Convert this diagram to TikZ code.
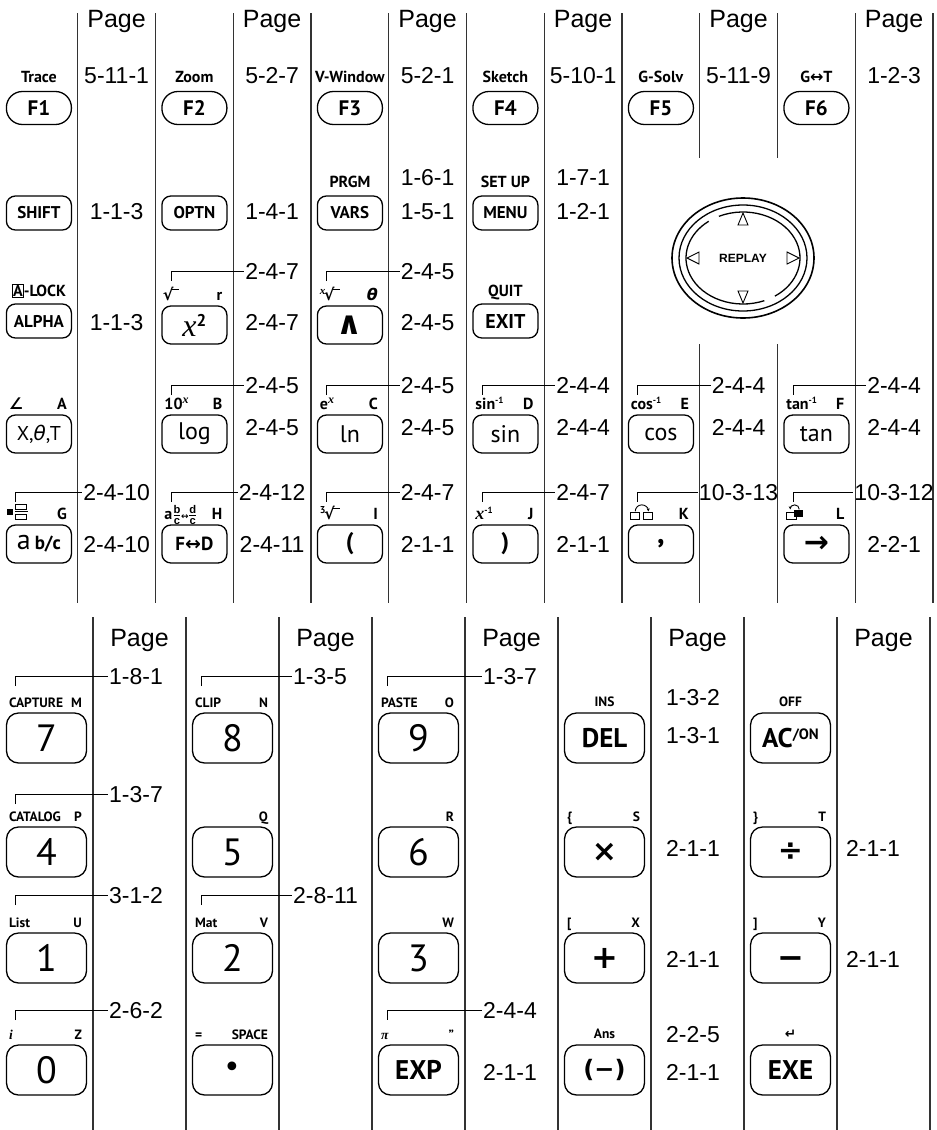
\RequirePackage{fix-cm}
\documentclass[tikz,border=0pt]{standalone}
\usepackage{amsmath,amssymb}
\usepackage{fontspec}
\setmainfont{Liberation Sans}
\newfontfamily\keyfont{PT Sans}
\newfontfamily\symfont{DejaVu Sans}
\newfontfamily\seriffont{Liberation Serif}
\usetikzlibrary{calc,arrows.meta}

% small boxed A of the A-LOCK legend
\newcommand{\boxedA}{{\fboxsep=0.6pt\fboxrule=0.6pt\fbox{A}}}
% root sign with its bar, #1 is the index
\newcommand{\rootsign}[1]{#1\hspace{-1.5pt}{\symfont √}\hspace{-0.09em}\rule[0.66em]{0.42em}{0.075em}}
\newcommand{\smallup}[1]{\raisebox{6pt}{\fontsize{9}{9}\selectfont #1}}
\newcommand{\itx}[1]{{\seriffont\bfseries\itshape\fontsize{#1}{#1}\selectfont x}}
% shift legend left of the key and alpha letter right of it
\newcommand{\keylabels}[3]{%
  \node[lbl, anchor=base west] (#1l) at ([xshift=3pt,yshift=5pt]#1.north west) {#2};
  \node[lbl, anchor=base east] (#1r) at ([xshift=-5pt,yshift=5pt]#1.north east) {#3};}
% the little hook from a key's shift legend over to its page number
\newcommand{\shiftlink}[2]{%
  \draw[brk] ($(#1.west |- #2.west)+(10pt,-10pt)$) -- ++(0pt,10pt) -- (#2.west);}

\tikzset{
  rule/.style={black!80, line width=1.3pt},
  brk/.style={black, line width=0.9pt},
  icon/.style={line width=0.9pt},
  pg/.style={anchor=base, inner sep=1pt, font=\fontsize{23}{23}\selectfont},
  pgw/.style={pg, anchor=base west},
  pghead/.style={pg, font=\fontsize{25}{25}\selectfont},
  keycap/.style={draw, line width=1.3pt, rounded corners=9pt, minimum width=65pt,
    minimum height=34pt, inner sep=0pt,
    font=\keyfont\bfseries\fontsize{17}{17}\selectfont},
  fkeycap/.style={keycap, rounded corners=16pt, minimum height=33pt,
    font=\keyfont\bfseries\fontsize{21}{21}\selectfont},
  tallcap/.style={keycap, minimum height=38pt, font=\keyfont\fontsize{24}{24}\selectfont},
  bigcap/.style={keycap, minimum width=80pt, minimum height=50pt, rounded corners=12pt,
    font=\keyfont\fontsize{38}{38}\selectfont},
  lbl/.style={anchor=base, inner sep=0pt, font=\keyfont\bfseries\fontsize{16}{16}\selectfont},
  padring/.style={line width=1.3pt},
  padarrow/.style={draw, fill=white, line width=0.9pt},
}

\begin{document}
\begin{tikzpicture}[x=1pt, y=-1pt]
  \useasboundingbox (0,0) rectangle (937,1130);

  % -- upper block: twelve rules, the 9th and 10th stop round the replay pad
  \foreach \i in {1,2,3,4,5,6,7,8,11,12}
    \draw[rule] ({77.75*\i},13) -- ({77.75*\i},603);
  \foreach \i in {9,10}{
    \draw[rule] ({77.75*\i},13) -- ({77.75*\i},158);
    \draw[rule] ({77.75*\i},344) -- ({77.75*\i},603);}
  \foreach \j in {0,...,5}
    \node[pghead] (toppage\j) at ({116.6+155.5*\j},27) {Page};

  % function keys F1..F6
  \foreach \j/\lab/\pnum in {0/Trace/5-11-1, 1/Zoom/5-2-7, 2/V-Window/5-2-1,
      3/Sketch/5-10-1, 4/G-Solv/5-11-9, 5/{G{\symfont ↔}T}/1-2-3}{
    \pgfmathtruncatemacro\n{\j+1}
    \node[fkeycap] (f\n) at ({38.9+155.5*\j},108) {F\n};
    \node[lbl] (f\n-lbl) at ([yshift=8pt]f\n.north) {\lab};
    \node[pg] (f\n-pg) at ({116.6+155.5*\j},83) {\pnum};}

  % SHIFT OPTN VARS MENU
  \node[keycap] (shift) at (38.9,213) {SHIFT};
  \node[keycap] (optn) at (194.4,213) {OPTN};
  \node[keycap] (vars) at (349.9,213) {VARS};
  \node[keycap] (menu) at (505.4,213) {MENU};
  \node[lbl] (prgm) at ([yshift=8pt]vars.north) {PRGM};
  \node[lbl] (setup) at ([yshift=8pt]menu.north) {SET UP};
  \node[pg] (shift-m) at (116.6,219) {1-1-3};
  \node[pg] (optn-m) at (272.1,219) {1-4-1};
  \node[pg] (vars-s) at (427.6,185) {1-6-1};
  \node[pg] (vars-m) at (427.6,219) {1-5-1};
  \node[pg] (menu-s) at (583.1,185) {1-7-1};
  \node[pg] (menu-m) at (583.1,219) {1-2-1};

  % ALPHA x^2 ^ EXIT
  \node[keycap] (alpha) at (38.9,321) {ALPHA};
  \node[tallcap] (sq) at (194.4,325)
    {{\seriffont\itshape\fontsize{32}{32}\selectfont x}\raisebox{10pt}{\keyfont\bfseries\fontsize{17}{17}\selectfont 2}};
  \node[tallcap, font=\symfont\bfseries\fontsize{32}{32}\selectfont] (pow) at (349.9,325) {∧};
  \node[keycap, font=\keyfont\bfseries\fontsize{20}{20}\selectfont] (exit) at (505.4,321) {EXIT};
  \node[lbl] (alock) at ([yshift=7pt]alpha.north) {\boxedA-LOCK};
  \node[lbl] (quit) at ([yshift=7pt]exit.north) {QUIT};
  \keylabels{sq}{\rootsign{}}{r}
  \keylabels{pow}{\rootsign{\raisebox{6pt}{\itx{11}}}}{{\symfont\bfseries\itshape θ}}
  \node[pg] (alpha-m) at (116.6,330) {1-1-3};
  \foreach \k/\x/\t in {sq/272.1/2-4-7, pow/427.6/2-4-5}{
    \node[pg] (\k-s) at (\x,279) {\t};
    \node[pg] (\k-m) at (\x,330) {\t};
    \shiftlink{\k}{\k-s}}

  % replay pad
  \draw[padring, line width=1.6pt] (743,258) ellipse [x radius=71, y radius=60];
  \draw[padring] (743,258) ellipse [x radius=64, y radius=53];
  \draw[padring] (743,258) ++(68:57 and 46) arc [start angle=68, end angle=233, x radius=57, y radius=46];
  \draw[padring] (743,258) ++(245:57 and 46) arc [start angle=245, end angle=416, x radius=57, y radius=46];
  \draw[padarrow] (743,213) -- (738,225) -- (748,225) -- cycle;
  \draw[padarrow] (743,303) -- (738,291) -- (748,291) -- cycle;
  \draw[padarrow] (687,258) -- (699,252) -- (699,264) -- cycle;
  \draw[padarrow] (799,258) -- (787,252) -- (787,264) -- cycle;
  \node[font=\bfseries\fontsize{12}{12}\selectfont] (replay) at (743,258) {REPLAY};

  % X,theta,T log ln sin cos tan
  \node[tallcap, font=\keyfont\fontsize{20}{20}\selectfont] (xtt) at (38.9,434) {X,{\symfont\itshape θ},T};
  \node[tallcap] (log) at (194.4,434) {log};
  \node[tallcap] (ln) at (349.9,434) {ln};
  \node[tallcap] (sin) at (505.4,434) {sin};
  \node[tallcap] (cos) at (660.9,434) {cos};
  \node[tallcap] (tan) at (816.4,434) {tan};
  \keylabels{xtt}{{\symfont\bfseries ∠}}{A}
  \keylabels{log}{10\raisebox{6pt}{\itx{12}}}{B}
  \keylabels{ln}{e\raisebox{6pt}{\itx{12}}}{C}
  \keylabels{sin}{sin\smallup{-1}}{D}
  \keylabels{cos}{cos\smallup{-1}}{E}
  \keylabels{tan}{tan\smallup{-1}}{F}
  \foreach \k/\x/\t in {log/272.1/2-4-5, ln/427.6/2-4-5, sin/583.1/2-4-4,
      cos/738.6/2-4-4, tan/894.1/2-4-4}{
    \node[pg] (\k-s) at (\x,393) {\t};
    \node[pg] (\k-m) at (\x,435) {\t};
    \shiftlink{\k}{\k-s}}

  % a b/c  F<->D  (  )  ,  ->
  \node[tallcap] (frac) at (38.9,544)
    {{\fontsize{28}{28}\selectfont a}\,{\bfseries\fontsize{19}{19}\selectfont b/c}};
  \node[tallcap, font=\keyfont\bfseries\fontsize{19}{19}\selectfont] (fd) at (194.4,544) {F{\symfont ↔}D};
  \node[tallcap, font=\keyfont\bfseries\fontsize{24}{24}\selectfont] (lpar) at (349.9,544) {(};
  \node[tallcap, font=\keyfont\bfseries\fontsize{24}{24}\selectfont] (rpar) at (505.4,544) {)};
  \node[tallcap, font=\keyfont\bfseries\fontsize{30}{30}\selectfont] (comma) at (660.9,544) {,};
  \node[tallcap, font=\symfont\bfseries\fontsize{30}{30}\selectfont] (sto) at (816.4,544) {→};
  \node[lbl, anchor=base east] (fracr) at ([xshift=-5pt,yshift=5pt]frac.north east) {G};
  \keylabels{fd}{a$\frac{\mathbf{b}}{\mathbf{c}}$\hspace{-0.5pt}{\symfont\fontsize{9}{9}\selectfont ↔}\hspace{-0.5pt}$\frac{\mathbf{d}}{\mathbf{c}}$}{H}
  \keylabels{lpar}{\rootsign{\raisebox{6pt}{\fontsize{10}{10}\selectfont 3}}}{I}
  \keylabels{rpar}{\itx{18}\smallup{-1}}{J}
  \node[lbl, anchor=base east] (commar) at ([xshift=-5pt,yshift=5pt]comma.north east) {K};
  \node[lbl, anchor=base east] (stor) at ([xshift=-5pt,yshift=5pt]sto.north east) {L};
  % the three little pictograms of this row
  \coordinate (gicon) at ([xshift=1pt,yshift=5pt]frac.north west);
  \fill ([yshift=4pt]gicon) rectangle ++(6pt,6pt);
  \draw[icon] ([xshift=9pt]gicon) rectangle ++(11pt,5pt);
  \draw[icon] ([xshift=8pt,yshift=7.5pt]gicon) -- ++(13pt,0pt);
  \draw[icon] ([xshift=9pt,yshift=10pt]gicon) rectangle ++(11pt,5pt);
  \coordinate (kicon) at ([xshift=3pt,yshift=5pt]comma.north west);
  \draw[icon] (kicon) rectangle ++(9pt,7pt);
  \draw[icon] ([xshift=13pt]kicon) rectangle ++(9pt,7pt);
  \draw[icon, -{Stealth[length=3pt,width=3pt]}] ([xshift=4.5pt,yshift=8pt]kicon)
    arc [start angle=180, end angle=0, radius=6.5pt];
  \coordinate (licon) at ([xshift=3pt,yshift=5pt]sto.north west);
  \draw[icon] (licon) rectangle ++(10pt,7pt);
  \fill ([xshift=8pt,yshift=2pt]licon) rectangle ++(9pt,7pt);
  \draw[icon, -{Stealth[length=3pt,width=3pt]}] ([xshift=13pt,yshift=10pt]licon)
    arc [start angle=0, end angle=180, radius=4.5pt];
  \foreach \k/\x/\s/\m in {frac/116.6/2-4-10/2-4-10, fd/272.1/2-4-12/2-4-11,
      lpar/427.6/2-4-7/2-1-1, rpar/583.1/2-4-7/2-1-1, sto/894.1/10-3-12/2-2-1}{
    \node[pg] (\k-s) at (\x,500) {\s};
    \node[pg] (\k-m) at (\x,552) {\m};
    \shiftlink{\k}{\k-s}}
  \node[pg] (comma-s) at (738.6,500) {10-3-13};
  \shiftlink{comma}{comma-s}

  % -- lower block: ten rules; its legends are set a little smaller
  \tikzset{lbl/.style={anchor=base, inner sep=0pt, font=\keyfont\bfseries\fontsize{13.5}{13.5}\selectfont}}
  \foreach \i in {1,...,10}
    \draw[rule] ({93*\i},617) -- ({93*\i},1130);
  \foreach \j in {0,...,4}
    \node[pghead] (lowpage\j) at ({139.5+186*\j},646) {Page};

  % number pad
  \foreach \k/\x/\y in {7/46.5/738, 8/232.5/738, 9/418.5/738, 4/46.5/852, 5/232.5/852,
      6/418.5/852, 1/46.5/958, 2/232.5/958, 3/418.5/958, 0/46.5/1070}
    \node[bigcap] (d\k) at (\x,\y) {\k};
  \node[bigcap, font=\symfont\fontsize{30}{30}\selectfont] (dot) at (232.5,1070) {•};
  \node[bigcap, font=\keyfont\bfseries\fontsize{27}{27}\selectfont] (exp) at (418.5,1070) {EXP};
  \node[bigcap, font=\keyfont\bfseries\fontsize{27}{27}\selectfont] (del) at (604.5,738) {DEL};
  \node[bigcap, font=\keyfont\bfseries\fontsize{27}{27}\selectfont] (acon) at (790.5,738)
    {AC\raisebox{8pt}{\fontsize{15}{15}\selectfont/ON}};
  \node[bigcap, font=\symfont\bfseries\fontsize{30}{30}\selectfont] (mul) at (604.5,852) {×};
  \node[bigcap, font=\symfont\bfseries\fontsize{30}{30}\selectfont] (div) at (790.5,852) {÷};
  \node[bigcap, font=\symfont\bfseries\fontsize{32}{32}\selectfont] (add) at (604.5,958) {+};
  \node[bigcap, font=\symfont\bfseries\fontsize{32}{32}\selectfont] (sub) at (790.5,958) {\vphantom{+}−};
  \node[bigcap, font=\symfont\bfseries\fontsize{24}{24}\selectfont] (neg) at (604.5,1070) {(−)};
  \node[bigcap, font=\keyfont\bfseries\fontsize{27}{27}\selectfont] (exe) at (790.5,1070) {EXE};

  \keylabels{d7}{CAPTURE}{M}
  \keylabels{d8}{CLIP}{N}
  \keylabels{d9}{PASTE}{O}
  \keylabels{d4}{CATALOG}{P}
  \keylabels{d1}{List}{U}
  \keylabels{d2}{Mat}{V}
  \keylabels{d0}{{\seriffont\bfseries\itshape i}}{Z}
  \keylabels{dot}{=}{SPACE}
  \keylabels{exp}{{\seriffont\bfseries\itshape π}}{”}
  \keylabels{mul}{\{}{S}
  \keylabels{div}{\}}{T}
  \keylabels{add}{[}{X}
  \keylabels{sub}{]}{Y}
  \node[lbl, anchor=base east] (d5r) at ([xshift=-5pt,yshift=5pt]d5.north east) {Q};
  \node[lbl, anchor=base east] (d6r) at ([xshift=-5pt,yshift=5pt]d6.north east) {R};
  \node[lbl, anchor=base east] (d3r) at ([xshift=-5pt,yshift=5pt]d3.north east) {W};
  \node[lbl] (ins) at ([yshift=6pt]del.north) {INS};
  \node[lbl] (off) at ([yshift=6pt]acon.north) {OFF};
  \node[lbl] (ans) at ([yshift=6pt]neg.north) {Ans};
  \node[lbl] (ret) at ([yshift=6pt]exe.north) {{\symfont\bfseries ↵}};

  % page numbers of the lower block
  \foreach \k/\x/\y/\t in {d7/108/684/1-8-1, d8/292/684/1-3-5, d9/482/684/1-3-7,
      d4/108/802/1-3-7, d1/108/903/3-1-2, d2/292/903/2-8-11, d0/108/1018/2-6-2,
      exp/482/1018/2-4-4}{
    \node[pgw] (\k-s) at (\x,\y) {\t};
    \shiftlink{\k}{\k-s}}
  \node[pgw] (exp-m) at (482,1080) {2-1-1};
  \node[pgw] (del-s) at (665,705) {1-3-2};
  \node[pgw] (del-m) at (665,743) {1-3-1};
  \node[pgw] (mul-m) at (665,856) {2-1-1};
  \node[pgw] (div-m) at (845,856) {2-1-1};
  \node[pgw] (add-m) at (665,967) {2-1-1};
  \node[pgw] (sub-m) at (845,967) {2-1-1};
  \node[pgw] (neg-s) at (665,1042) {2-2-5};
  \node[pgw] (neg-m) at (665,1080) {2-1-1};

\end{tikzpicture}
\end{document}
